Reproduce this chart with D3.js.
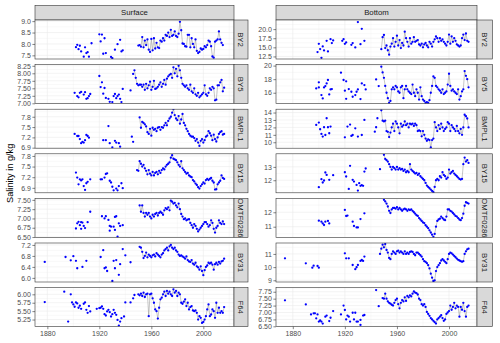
<!DOCTYPE html>
<html><head><meta charset="utf-8">
<script src="https://cdn.jsdelivr.net/npm/d3@7/dist/d3.min.js"></script>
<style>body{margin:0;background:#fff}svg{display:block;font-family:"Liberation Sans",Arial,sans-serif}</style>
</head><body><svg id="c" width="500" height="343"></svg>
<script>
const stations = ["BY2","BY5","BMPL1","BY15","OMTF0286","BY31","F64"];
const layers = ["Surface","Bottom"];
const xTicks = [1880,1920,1960,2000];

// y tick labels per panel
const surfTicks = [[7.5,8,8.5,9],[7,7.25,7.5,7.75,8,8.25],[6.9,7.2,7.5,7.8],[6.9,7.2,7.5,7.8],[6.5,6.75,7,7.25,7.5],[6,6.4,6.8,7.2],[5.25,5.5,5.75,6]];
const surfDec = [1,2,1,1,2,1,2];
const botTicks = [[12.5,15,17.5,20],[16,18,20],[10,11,12,13,14],[12,13],[11,12],[9,10,11],[6.5,6.75,7,7.25,7.5,7.75]];
const botDec = [1,0,0,0,0,0,2];
const surfDomain = [[7.34,9.05],[6.99,8.29],[6.885,8.02],[6.76,7.86],[6.49,7.54],[5.85,7.27],[5.04,6.20]];
const botDomain = [[11.8,22.5],[14.4,20.15],[9.2,14.45],[11.06,13.98],[10.26,12.96],[8.87,11.83],[6.49,7.90]];

// first year of each annual (connected) series
const surfStart = [1950,1947,1951,1949,1951,1951,1950];
const botStart = [1948,1948,1948,1950,1950,1947,1949];

// annual series (connected)
const surfBY2 = [7.93,7.95,7.88,8.30,7.85,8.15,7.95,8.20,7.75,7.65,8.22,7.72,8.25,7.80,8.05,7.85,7.82,8.15,8.10,8.25,8.15,8.40,8.35,8.50,8.30,8.62,8.35,8.40,8.55,8.35,8.30,8.45,8.97,8.60,8.02,8.00,7.90,7.88,8.40,8.40,7.85,8.25,8.00,7.85,8.20,7.70,7.60,7.65,7.80,7.75,7.78,7.90,7.85,7.95,8.15,8.10,7.90,7.45,7.40,8.10,8.15,8.20,8.55,8.20,8.05,7.95];
const surfBY5 = [8.10,7.85,7.65,7.60,7.62,7.62,7.55,7.62,7.45,7.65,7.50,7.60,7.72,7.45,7.55,7.75,7.48,7.50,7.55,7.62,7.70,7.55,7.65,7.78,7.62,7.82,7.90,7.95,7.98,7.85,8.20,8.00,8.15,7.90,8.25,8.10,7.85,7.65,7.60,7.55,7.60,7.50,7.45,7.62,7.40,7.35,7.50,7.30,7.25,7.35,7.20,7.25,7.30,7.35,7.60,7.30,7.25,7.35,7.50,7.45,7.55,7.50,7.10,7.12,7.60,7.60,7.70,7.78,7.40,7.52];
const surfBMPL1 = [7.78,7.48,7.65,7.62,7.58,7.52,7.35,7.30,7.45,7.25,7.48,7.42,7.45,7.38,7.48,7.50,7.42,7.50,7.48,7.55,7.62,7.55,7.68,7.75,7.80,7.92,8.02,7.85,7.75,7.70,7.82,7.60,7.72,7.88,7.62,7.55,7.45,7.38,7.30,7.25,7.22,7.22,7.18,7.10,7.15,7.05,6.95,7.10,7.15,7.05,7.12,7.22,7.25,7.38,7.32,7.25,7.12,7.28,7.15,7.08,7.20,7.30,7.35,7.38,7.28,7.30];
const surfBY15 = [7.40,7.38,7.65,7.58,7.50,7.55,7.45,7.38,7.28,7.40,7.30,7.25,7.35,7.25,7.32,7.35,7.28,7.38,7.32,7.40,7.45,7.42,7.50,7.55,7.58,7.62,7.75,7.82,7.72,7.70,7.68,7.62,7.55,7.50,7.65,7.45,7.40,7.35,7.30,7.32,7.25,7.22,7.20,7.12,7.08,7.02,6.98,6.92,6.88,6.95,7.00,7.05,7.02,7.12,7.15,7.12,7.15,7.18,7.10,7.05,6.85,6.86,7.00,7.05,7.10,7.25,7.18,7.15];
const surfOMTF0286 = [7.35,7.18,7.35,7.15,7.05,7.15,7.10,7.15,7.05,7.00,7.10,7.05,7.12,7.15,7.08,7.15,7.18,7.15,7.10,7.22,7.28,7.25,7.30,7.22,7.48,7.45,7.40,7.42,7.35,7.30,7.40,7.25,7.12,7.05,6.98,7.00,6.95,6.97,6.98,6.88,6.82,6.75,6.85,6.80,6.72,6.65,6.70,6.75,6.80,6.85,6.90,6.90,6.85,6.78,6.82,6.95,6.88,6.72,6.62,6.75,6.80,6.95,6.88,6.85,6.92,6.85];
const surfBY31 = [7.13,7.10,6.95,6.72,6.80,6.92,6.75,6.85,6.80,6.75,6.82,6.85,6.78,6.90,6.85,6.80,6.75,6.85,6.90,7.00,7.05,7.10,7.00,7.15,7.20,7.10,7.05,7.10,7.00,6.95,6.85,6.80,6.82,6.78,6.75,6.70,6.78,6.65,6.60,6.58,6.65,6.52,6.48,6.55,6.42,6.38,6.30,6.42,6.25,6.10,6.28,6.40,6.45,6.55,6.52,6.55,6.48,6.30,6.50,6.55,6.48,6.58,6.52,6.60,6.62,6.70];
const surfF64 = [6.00,5.97,6.02,5.95,6.05,5.92,6.00,6.02,5.35,6.00,6.02,5.88,5.75,5.55,5.50,5.28,5.60,5.85,5.90,6.00,6.08,5.95,6.10,6.02,6.08,6.00,5.95,6.15,6.05,6.10,5.95,6.05,6.00,5.75,5.72,5.78,5.85,5.65,5.75,5.55,5.62,5.65,5.52,5.50,5.52,5.45,5.25,5.35,5.30,5.15,5.18,5.25,5.35,5.55,5.70,5.35,5.40,5.55,5.50,5.30,5.75,5.45,5.60,5.45,5.50,5.45,5.62];

const botBY2 = [14.5,17.8,18.4,14.8,15.5,14.2,13.0,15.2,16.0,17.5,15.2,16.5,18.2,15.5,17.0,14.8,16.2,15.5,19.3,17.5,16.5,15.2,17.5,16.0,16.5,17.8,16.5,16.8,17.0,15.8,15.5,16.0,15.0,15.8,16.2,15.5,15.0,16.5,16.0,15.2,16.5,17.2,18.0,17.5,16.5,17.5,16.8,17.2,16.5,16.0,15.5,16.5,18.5,16.0,18.0,16.5,17.5,16.8,15.8,15.5,15.2,15.5,17.5,18.5,17.0,18.8,16.8,16.5];
const botBY5 = [19.85,19.0,18.2,17.0,16.0,15.2,14.5,14.8,16.5,16.8,16.5,17.0,16.8,16.2,16.0,16.8,17.0,15.2,16.5,17.0,16.5,16.2,16.0,15.8,17.2,16.0,15.5,16.5,16.0,15.0,16.8,15.5,15.0,14.8,14.5,14.6,14.5,14.9,16.0,17.0,18.4,18.2,17.0,16.8,16.5,16.3,16.0,16.5,15.8,16.0,16.2,17.2,18.8,17.0,16.3,16.5,16.2,16.0,15.8,16.5,15.0,15.5,16.2,16.5,19.2,18.5,18.0,16.8];
const botBMPL1 = [14.3,12.9,12.8,12.9,11.5,11.4,10.7,11.3,12.0,12.5,11.5,12.8,12.5,12.0,11.2,12.5,12.1,12.3,12.8,12.3,12.5,12.0,12.5,12.4,12.5,12.2,12.5,12.3,11.5,11.6,11.5,10.8,11.5,11.0,10.5,10.2,10.4,10.3,9.3,10.3,10.5,12.7,12.0,11.5,12.3,11.8,12.5,12.0,11.5,11.8,12.0,12.7,12.5,11.5,12.3,12.0,11.8,11.5,12.2,11.5,11.2,11.8,11.0,12.0,13.7,13.5,13.2,12.0];
const botBY15 = [13.9,13.6,13.5,13.4,13.2,13.0,12.8,13.0,12.9,12.8,13.0,12.8,12.9,12.8,12.85,12.7,12.8,12.6,12.7,12.6,13.2,12.8,12.7,12.6,12.5,12.55,12.4,12.5,12.3,12.2,12.1,12.0,11.8,11.6,11.5,11.4,11.3,11.2,11.1,11.5,12.0,12.1,12.0,12.3,12.2,12.6,12.4,12.3,12.1,12.2,12.8,12.5,12.6,12.7,12.5,12.4,12.3,12.2,12.1,12.05,12.1,13.2,13.7,13.4,13.5,13.3];
const botOMTF0286 = [12.86,12.75,12.6,12.4,12.1,11.95,12.2,12.3,12.3,12.25,12.35,12.2,12.3,12.2,12.1,12.2,12.25,12.2,12.1,12.2,12.15,12.2,12.1,12.0,11.9,11.8,11.75,11.6,11.5,11.4,11.3,11.25,11.1,11.0,10.9,10.75,10.6,10.45,10.3,10.5,11.0,11.4,11.5,11.55,11.7,11.6,11.5,11.45,11.7,12.2,12.2,12.1,12.05,11.95,11.85,11.75,11.7,11.6,11.5,11.45,11.6,11.9,12.45,12.7,12.65,12.6];
const botBY31 = [11.0,11.4,11.7,11.5,11.75,11.3,11.1,10.7,10.6,11.0,11.2,11.1,11.0,11.2,11.25,11.1,11.2,11.1,11.0,11.2,11.0,11.1,11.0,11.15,11.2,11.15,11.0,10.9,11.1,11.1,11.0,10.9,10.8,10.6,10.45,10.4,10.3,10.15,9.9,9.5,9.2,8.95,9.0,9.7,10.0,10.15,10.3,10.5,10.6,10.5,10.4,10.3,10.6,11.0,11.1,11.05,10.95,10.85,10.75,10.65,10.55,10.5,10.45,10.4,10.45,11.0,11.2,11.35,11.4];
const botF64 = [7.52,7.50,7.68,7.50,7.40,7.35,7.32,7.28,7.25,7.35,7.45,7.50,7.30,7.15,7.35,7.45,7.40,7.55,7.42,7.60,7.55,7.62,7.58,7.68,7.76,7.72,7.70,7.65,7.50,7.45,7.30,7.25,7.30,7.20,7.02,6.95,6.88,6.80,6.75,6.70,6.65,6.60,6.75,6.80,6.85,6.90,6.80,6.70,6.75,6.95,7.00,7.05,7.25,7.10,7.20,7.35,7.15,7.25,7.20,6.85,7.20,7.10,7.35,7.05,6.85,7.20,7.25];

// scattered early observations [year, value]
const surfBY2Early = [[1902,7.86],[1903,7.96],[1904,7.77],[1905,7.92],[1906,7.67],[1908,7.44],[1909,7.85],[1910,7.60],[1911,7.64],[1912,7.44],[1914,8.03],[1920,8.42],[1921,8.11],[1922,8.41],[1924,8.25],[1923,7.57],[1925,7.60],[1929,7.43],[1930,7.38],[1932,7.75],[1934,7.99],[1936,8.18],[1937,7.67],[1938,7.72]];
const surfBY5Early = [[1901,7.35],[1903,7.24],[1904,7.20],[1905,7.35],[1906,7.38],[1908,7.29],[1909,7.37],[1910,7.15],[1911,7.17],[1912,7.24],[1913,7.31],[1920,7.91],[1921,7.54],[1922,7.70],[1923,7.32],[1924,7.51],[1925,7.18],[1927,7.15],[1928,7.05],[1930,7.04],[1931,7.24],[1932,7.31],[1933,7.17],[1934,7.24],[1935,7.29],[1936,7.15],[1937,7.04],[1938,7.48],[1944,7.43],[1946,7.98]];
const surfBMPL1Early = [[1901,7.30],[1903,7.24],[1904,7.24],[1905,7.15],[1906,7.03],[1907,7.07],[1908,7.05],[1909,7.12],[1910,7.27],[1911,7.24],[1912,7.19],[1923,7.12],[1925,7.12],[1927,7.53],[1928,7.03],[1930,6.91],[1932,7.10],[1933,7.05],[1935,7.03],[1936,6.93],[1945,7.22],[1946,7.07]];
const surfBY15Early = [[1902,7.33],[1903,7.19],[1904,7.00],[1905,7.14],[1906,7.11],[1907,7.14],[1908,6.95],[1909,6.84],[1910,7.03],[1911,7.07],[1913,7.14],[1921,7.14],[1922,7.14],[1924,7.19],[1925,7.29],[1926,7.31],[1928,7.10],[1929,7.05],[1930,6.93],[1931,6.83],[1933,6.88],[1934,6.83],[1935,6.95],[1937,7.03],[1938,6.89]];
const surfOMTF0286Early = [[1902,6.73],[1903,6.87],[1904,6.91],[1905,6.82],[1906,6.72],[1906,6.90],[1907,6.89],[1908,6.80],[1909,6.74],[1911,6.90],[1913,7.18],[1922,7.06],[1924,7.00],[1925,7.06],[1927,6.96],[1928,6.80],[1928,6.67],[1929,6.78],[1931,6.78],[1932,6.69],[1932,7.04],[1933,7.06],[1934,6.51],[1935,6.87],[1936,6.80],[1938,6.82]];
const surfBY31Early = [[1878,6.58],[1894,6.76],[1898,6.64],[1900,6.79],[1902,6.62],[1903,6.35],[1907,6.40],[1910,6.62],[1921,6.76],[1923,7.01],[1924,6.35],[1925,6.38],[1926,6.25],[1930,5.89],[1931,6.62],[1932,6.35],[1933,6.65],[1935,6.11],[1936,6.50],[1938,7.05],[1940,6.82],[1944,6.57]];
const surfF64Early = [[1878,5.77],[1893,6.08],[1896,5.19],[1898,6.00],[1899,5.76],[1900,5.70],[1901,5.63],[1902,5.76],[1903,5.73],[1904,5.60],[1905,5.66],[1906,5.57],[1908,5.72],[1909,5.76],[1910,5.54],[1911,5.45],[1912,5.65],[1913,5.49],[1918,5.57],[1920,5.59],[1921,5.60],[1922,5.64],[1923,5.57],[1924,5.41],[1925,5.37],[1926,5.49],[1927,5.54],[1928,5.47],[1929,5.34],[1930,5.41],[1931,5.54],[1932,5.45],[1933,5.39],[1934,5.24],[1935,5.07],[1936,5.19],[1937,5.29],[1939,5.34],[1940,5.76],[1944,5.76],[1946,5.88],[1947,5.98]];

const botBY2Early = [[1899,13.69],[1900,15.97],[1901,14.51],[1902,12.13],[1903,15.24],[1904,14.14],[1906,16.80],[1907,13.87],[1909,17.25],[1910,16.16],[1911,16.89],[1918,16.80],[1919,17.25],[1920,15.97],[1921,16.34],[1925,15.70],[1926,16.16],[1928,14.97],[1930,21.92],[1932,15.88],[1933,20.09],[1935,16.80]];
const botBY5Early = [[1898,16.64],[1900,17.53],[1900,16.79],[1902,15.65],[1903,15.16],[1904,16.79],[1905,16.99],[1906,17.38],[1907,17.88],[1908,15.75],[1909,16.49],[1910,16.54],[1917,18.96],[1919,17.88],[1920,16.30],[1921,15.11],[1921,17.68],[1923,16.54],[1925,16.15],[1926,15.41],[1928,15.65],[1929,16.15],[1930,16.49],[1932,15.06],[1933,17.38],[1935,17.13],[1936,16.49],[1944,17.97],[1946,16.99]];
const botBMPL1Early = [[1898,12.33],[1900,12.65],[1901,11.75],[1902,11.12],[1903,10.76],[1904,12.02],[1905,10.98],[1906,13.23],[1907,12.02],[1908,11.21],[1909,12.11],[1920,10.67],[1922,12.11],[1924,12.38],[1925,10.85],[1926,10.98],[1928,11.88],[1930,10.76],[1933,10.98],[1935,13.01],[1943,11.43],[1944,12.02],[1945,13.23]];
const botBY15Early = [[1900,11.48],[1902,12.08],[1903,11.83],[1904,11.98],[1905,12.58],[1906,12.40],[1908,12.03],[1911,12.38],[1920,12.60],[1921,12.28],[1923,11.35],[1924,13.08],[1926,12.03],[1927,11.90],[1929,11.65],[1930,11.23],[1931,11.78],[1932,11.58],[1933,11.63],[1934,11.58],[1935,12.65],[1936,12.88],[1947,12.83]];
const botOMTF0286Early = [[1900,11.42],[1902,11.35],[1903,11.23],[1904,11.12],[1905,11.35],[1907,11.40],[1908,11.23],[1920,12.16],[1921,11.74],[1922,11.77],[1926,11.35],[1927,11.05],[1929,10.95],[1930,10.95],[1932,11.53],[1935,11.93]];
const botBY31Early = [[1874,10.67],[1890,10.29],[1895,9.96],[1896,10.11],[1899,10.09],[1900,9.96],[1920,11.05],[1921,10.67],[1923,10.67],[1926,10.16],[1928,9.84],[1929,9.99],[1930,10.16],[1932,10.47],[1933,10.54],[1934,10.47],[1935,10.80]];
const botF64Early = [[1874,7.44],[1890,7.29],[1894,6.93],[1896,6.97],[1897,6.97],[1898,6.79],[1899,6.93],[1900,6.67],[1901,6.71],[1902,6.67],[1903,6.60],[1905,6.85],[1906,6.89],[1908,6.69],[1909,6.81],[1911,7.05],[1917,6.93],[1919,7.25],[1920,7.09],[1921,6.75],[1922,6.89],[1923,6.85],[1924,6.67],[1926,6.99],[1927,6.75],[1928,6.99],[1929,6.67],[1930,6.67],[1932,6.73],[1932,6.55],[1934,6.89],[1935,6.91],[1944,7.81],[1946,7.23]];

const surfSeries = [surfBY2,surfBY5,surfBMPL1,surfBY15,surfOMTF0286,surfBY31,surfF64];
const surfEarly = [surfBY2Early,surfBY5Early,surfBMPL1Early,surfBY15Early,surfOMTF0286Early,surfBY31Early,surfF64Early];
const botSeries = [botBY2,botBY5,botBMPL1,botBY15,botOMTF0286,botBY31,botF64];
const botEarly = [botBY2Early,botBY5Early,botBMPL1Early,botBY15Early,botOMTF0286Early,botBY31Early,botF64Early];

const svg = d3.select("#c");
const cols = [
  {layer:layers[0], x0:35, x1:234, sw:14, xd:[1870.5,2023.6], dom:surfDomain, ticks:surfTicks, dec:surfDec, start:surfStart, series:surfSeries, early:surfEarly},
  {layer:layers[1], x0:276, x1:477, sw:15.5, xd:[1867.1,2021.5], dom:botDomain, ticks:botTicks, dec:botDec, start:botStart, series:botSeries, early:botEarly}
];
const topY = 20, stripTop = 5.5, stepY = 44.6, ph = 39;
const gridCol = "#ebebeb", borderCol = "#333333", txtCol = "#4d4d4d";
const defs = svg.append("defs");

function minors(t, dom){
  const st = t.length>1 ? t[1]-t[0] : 1;
  const out = [];
  for (let v = t[0]-st/2; v <= dom[1]+1e-9; v += st) if (v >= dom[0]) out.push(v);
  return out.filter(v => !t.some(m => Math.abs(m-v) < 1e-9));
}

cols.forEach((c, ci) => {
  const x = d3.scaleLinear().domain(c.xd).range([c.x0, c.x1]);
  const xMinor = minors(xTicks, c.xd);
  // header strip
  svg.append("rect").attr("x", c.x0).attr("y", stripTop).attr("width", c.x1-c.x0).attr("height", topY-stripTop)
    .attr("fill", "#d9d9d9").attr("stroke", borderCol).attr("stroke-width", 0.6);
  svg.append("text").attr("x", (c.x0+c.x1)/2).attr("y", (stripTop+topY)/2).attr("dy", "0.35em")
    .attr("text-anchor", "middle").attr("font-size", 7.8).attr("fill", "#1a1a1a").text(c.layer);

  stations.forEach((s, i) => {
    const y0 = topY + i*stepY, y1 = y0 + ph;
    const y = d3.scaleLinear().domain(c.dom[i]).range([y1, y0]);
    const g = svg.append("g");
    const cid = `clip${ci}_${i}`;
    defs.append("clipPath").attr("id", cid).append("rect").attr("x", c.x0).attr("y", y0).attr("width", c.x1-c.x0).attr("height", ph);
    g.append("rect").attr("x", c.x0).attr("y", y0).attr("width", c.x1-c.x0).attr("height", ph).attr("fill", "#fff");
    const gg = g.append("g").attr("clip-path", `url(#${cid})`);
    // minor grid
    gg.selectAll(null).data(minors(c.ticks[i], c.dom[i])).join("line")
      .attr("x1", c.x0).attr("x2", c.x1).attr("y1", d => y(d)).attr("y2", d => y(d))
      .attr("stroke", gridCol).attr("stroke-width", 0.3);
    gg.selectAll(null).data(xMinor).join("line")
      .attr("y1", y0).attr("y2", y1).attr("x1", d => x(d)).attr("x2", d => x(d))
      .attr("stroke", gridCol).attr("stroke-width", 0.3);
    // major grid
    gg.selectAll(null).data(c.ticks[i]).join("line")
      .attr("x1", c.x0).attr("x2", c.x1).attr("y1", d => y(d)).attr("y2", d => y(d))
      .attr("stroke", gridCol).attr("stroke-width", 0.6);
    gg.selectAll(null).data(xTicks).join("line")
      .attr("y1", y0).attr("y2", y1).attr("x1", d => x(d)).attr("x2", d => x(d))
      .attr("stroke", gridCol).attr("stroke-width", 0.6);
    // data
    const ser = c.series[i].map((v, k) => [c.start[i] + k, v]);
    gg.append("path").datum(ser)
      .attr("d", d3.line().x(d => x(d[0])).y(d => y(d[1])))
      .attr("fill", "none").attr("stroke", "#8c8c8c").attr("stroke-width", 0.5);
    gg.selectAll(null).data(c.early[i].concat(ser)).join("circle")
      .attr("cx", d => x(d[0])).attr("cy", d => y(d[1])).attr("r", 1.15).attr("fill", "#0000ff");
    // border
    g.append("rect").attr("x", c.x0).attr("y", y0).attr("width", c.x1-c.x0).attr("height", ph)
      .attr("fill", "none").attr("stroke", borderCol).attr("stroke-width", 0.6);
    // y axis
    const ax = g.append("g").attr("transform", `translate(${c.x0},0)`)
      .call(d3.axisLeft(y).tickValues(c.ticks[i]).tickFormat(d3.format(`.${c.dec[i]}f`)).tickSize(2.6).tickPadding(1.5));
    ax.select(".domain").remove();
    ax.selectAll("line").attr("stroke", borderCol).attr("stroke-width", 0.6);
    ax.selectAll("text").attr("fill", txtCol).attr("font-size", 7).attr("font-family", "Liberation Sans, Arial, sans-serif");
    // side strip
    const sid = `sclip${ci}_${i}`;
    defs.append("clipPath").attr("id", sid).append("rect").attr("x", c.x1).attr("y", y0).attr("width", c.sw).attr("height", ph);
    g.append("rect").attr("x", c.x1).attr("y", y0).attr("width", c.sw).attr("height", ph)
      .attr("fill", "#d9d9d9").attr("stroke", borderCol).attr("stroke-width", 0.6);
    const cx = c.x1 + c.sw/2, cy = y0 + ph/2;
    g.append("g").attr("clip-path", `url(#${sid})`).append("text")
      .attr("transform", `translate(${cx},${cy}) rotate(90)`).attr("dy", "0.35em")
      .attr("text-anchor", "middle").attr("font-size", 7.8).attr("fill", "#1a1a1a").text(s);
  });
  // x axis
  const yb = topY + 6*stepY + ph;
  const xa = svg.append("g").attr("transform", `translate(0,${yb})`)
    .call(d3.axisBottom(x).tickValues(xTicks).tickFormat(d3.format("d")).tickSize(2.6).tickPadding(1.5));
  xa.select(".domain").remove();
  xa.selectAll("line").attr("stroke", borderCol).attr("stroke-width", 0.6);
  xa.selectAll("text").attr("fill", txtCol).attr("font-size", 7).attr("font-family", "Liberation Sans, Arial, sans-serif");
});

svg.append("text").attr("transform", `translate(9.5,${topY + (6*stepY+ph)/2}) rotate(-90)`)
  .attr("dy", "0.35em").attr("text-anchor", "middle").attr("font-size", 9.2).attr("fill", "#000")
  .text("Salinity in g/kg");
</script></body></html>
